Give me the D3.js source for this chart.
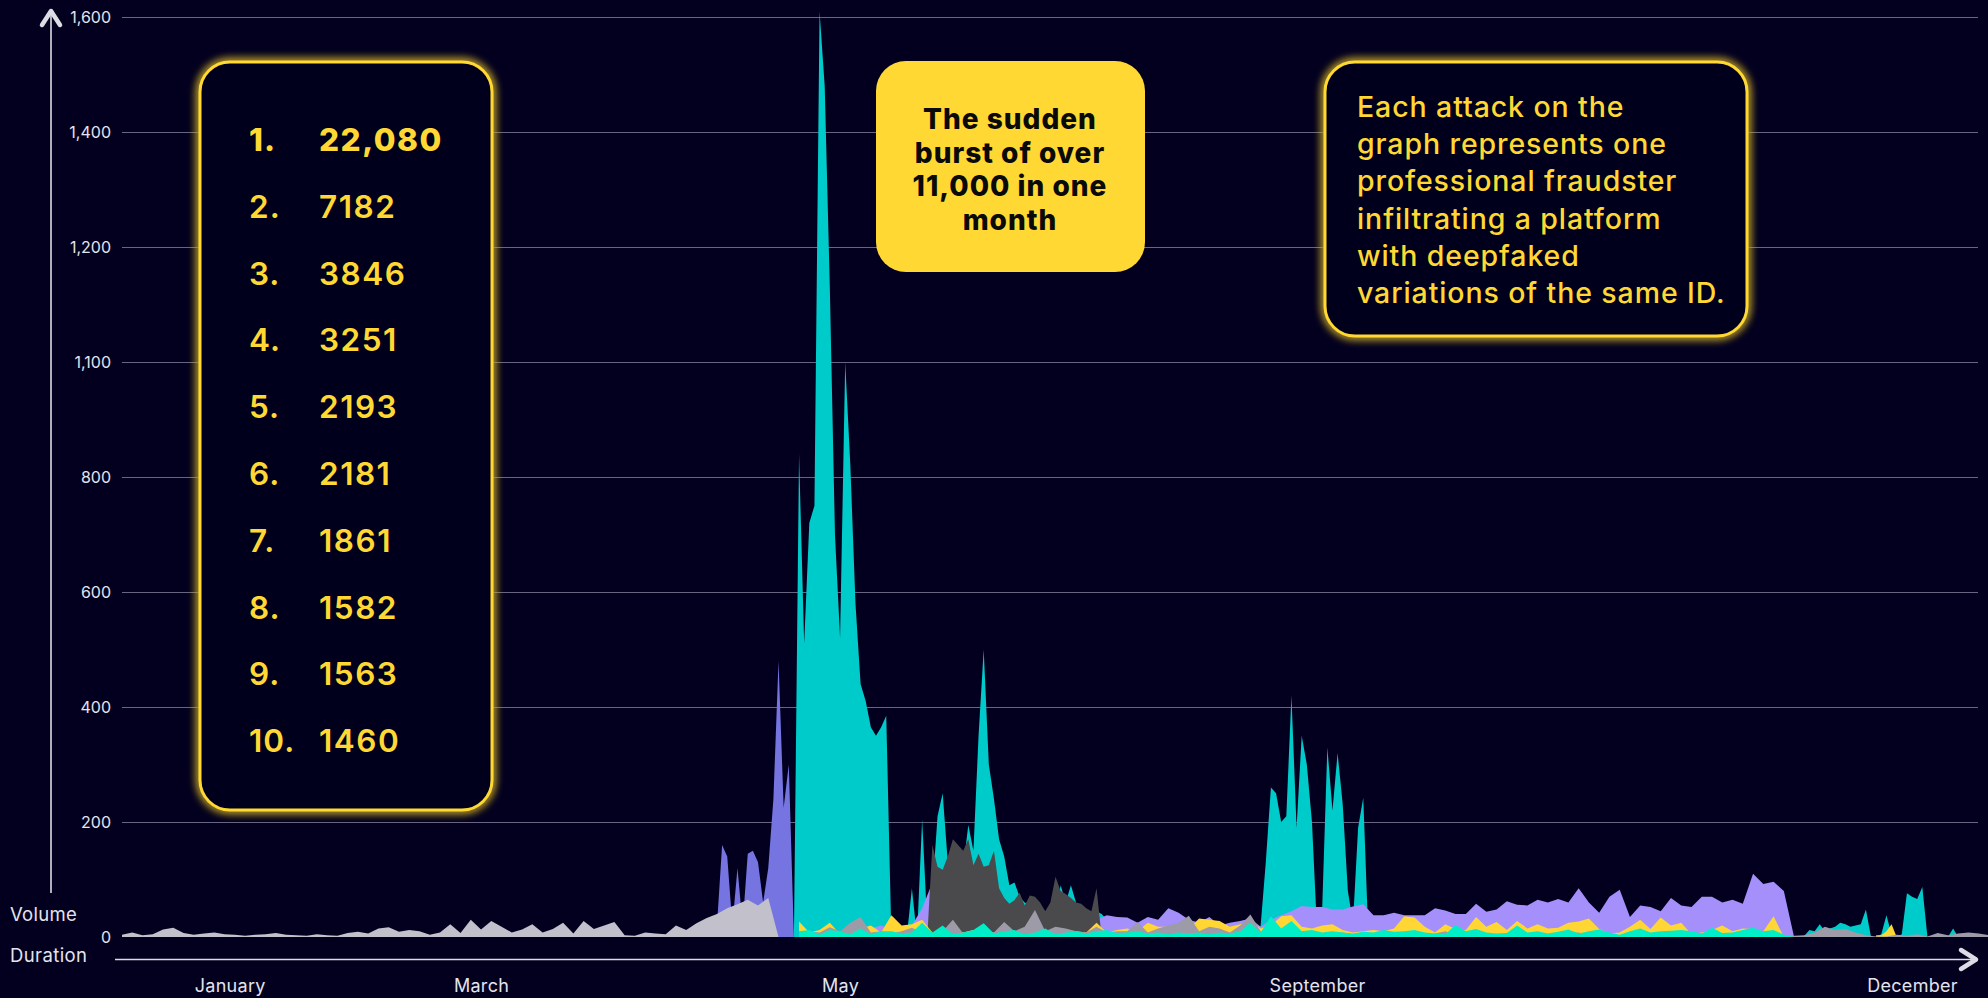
<!DOCTYPE html>
<html><head><meta charset="utf-8">
<script src="https://cdn.jsdelivr.net/npm/d3@7"></script>
<style>
html,body{margin:0;padding:0;background:#03001f;}
svg{display:block;}
</style></head><body>
<svg id="chart" width="1988" height="998"></svg>
<script>
// ---------- data ----------
const yTickValues = [0, 200, 400, 600, 800, 1000, 1200, 1400, 1600];
const yTickLabels = ["0", "200", "400", "600", "800", "1,100", "1,200", "1,400", "1,600"];
const monthLabels = ["January", "March", "May", "September", "December"];
const monthDays = [21, 70, 140, 233, 349];
const rankLabels = ["1.", "2.", "3.", "4.", "5.", "6.", "7.", "8.", "9.", "10."];
const rankValues = ["22,080", "7182", "3846", "3251", "2193", "2181", "1861", "1582", "1563", "1460"];
const burstNote = ["The sudden", "burst of over", "11,000 in one", "month"];
const attackNote = ["Each attack on the", "graph represents one", "professional fraudster", "infiltrating a platform", "with deepfaked", "variations of the same ID."];

// series: first day index, day step, values
const cyanBurstStart = 131;
const cyanBurst = [0, 840, 510, 720, 750, 1610, 1480, 1130, 700, 520, 1000, 820, 580, 440, 410, 365, 350, 365, 385, 0];
const cyanJuneStart = 153;
const cyanJune = [0, 85, 0, 205, 20, 80, 210, 250, 130, 120, 110, 120, 195, 150, 350, 500, 300, 240, 170, 140, 90, 95, 70, 60, 55, 50, 50, 45, 40, 40, 90, 60, 90, 60, 40, 30, 35, 45, 40, 30, 25, 20, 0];
const cyanSeptStart = 221;
const cyanSept = [0, 20, 130, 260, 250, 200, 210, 420, 190, 350, 300, 200, 10, 50, 330, 220, 320, 230, 80, 25, 190, 242, 0];
const cyanDecStart = 327;
const cyanDec = [0, 2, 12, 10, 22, 10, 15, 18, 25, 22, 18, 20, 22, 48, 0, 0, 5, 38, 5, 0, 5, 76, 70, 66, 87, 0, 0, 0, 0, 0, 15, 0];
const slateStart = 115;
const slate = [0, 20, 160, 140, 20, 120, 20, 145, 150, 130, 60, 120, 240, 480, 225, 300, 0];
const lightGrayStart = 0;
const lightGray = [4, 8, 3, 5, 13, 16, 7, 4, 6, 8, 5, 4, 2, 4, 5, 7, 4, 3, 2, 5, 3, 2, 7, 9, 6, 15, 17, 9, 12, 10, 4, 8, 22, 7, 30, 13, 28, 18, 8, 13, 22, 8, 14, 25, 6, 28, 14, 20, 26, 3, 2, 8, 6, 5, 20, 12, 24, 33, 40, 50, 57, 65, 55, 68, 0];
const lavenderStart = 144;
const lavender = [0, 15, 20, 15, 12, 20, 50, 95, 40, 30, 30, 30, 30, 30, 30, 30, 30, 30, 30, 30, 30, 30, 30,
  30, 38, 35, 34, 25, 35, 30, 50, 42, 30, 25, 35, 20, 25, 28, 32, 18, 30, 38, 45, 54, 52, 52, 48, 48, 53, 57, 38, 38, 42,
  38, 38, 38, 50, 46, 40, 40, 58, 44, 48, 62, 56, 55, 65, 60, 66, 60, 85, 60, 42, 70, 82, 35, 55, 52, 45, 68, 55, 52, 70,
  70, 60, 65, 58, 110, 92, 96, 80, 0];
const darkGrayStart = 157;
const darkGray = [0, 160, 122, 117, 140, 170, 160, 150, 170, 125, 145, 122, 125, 150, 85, 68, 58, 64, 77, 55, 72, 70, 60, 45, 60, 105, 80, 75, 68, 60, 58, 50, 45, 85, 0];
const yellowStart = 132;
const yellow = [27, 8, 12, 25, 5, 10, 15, 20, 8, 38, 20, 22, 30, 8, 10, 15, 8, 12, 10, 8, 12, 10, 8, 12, 8, 10, 12, 10, 8, 25,
  8, 12, 15, 10, 25, 18, 18, 12, 15, 32, 30, 28, 18, 22, 30, 15, 20, 36, 38, 18, 15, 20, 22, 12, 8, 10, 12, 10, 15, 36,
  34, 18, 8, 22, 14, 12, 35, 18, 26, 12, 28, 15, 22, 15,
  16, 25, 27, 32, 14, 6, 8, 18, 30, 14, 34, 20, 25, 5, 8, 12, 20, 10, 15, 14, 10, 36, 0];
const yellowDecStart = 342;
const yellowDec = [3, 3, 10, 22, 0];
const grayStart = 132;
const gray = [10, 10, 8, 17, 10, 25, 35, 8, 10, 6, 10, 16, 8, 6, 10, 30, 6, 8, 10, 8, 26, 10, 18, 47, 10, 18, 15, 10, 8, 18,
  8, 10, 10, 26, 8, 15, 20, 25, 37, 10, 18, 15, 8, 20, 39, 10, 8, 5, 8, 5, 5, 3, 8, 8, 4, 3, 5, 3, 5, 3,
  4, 3, 6, 10, 4, 3, 5, 3, 4, 3, 5, 4, 3, 4, 3, 7, 8, 4, 3, 4, 3, 5, 3, 4, 3, 5, 3, 4, 6, 5,
  3, 4, 3, 4, 3, 3, 2, 2, 3, 8, 18, 12, 14, 8, 3, 1, 1, 4, 2, 5, 1, 7, 3, 6, 8, 6, 3];
const aquaStart = 132;
const aqua = [10, 12, 4, 12, 10, 5, 15, 5, 10, 10, 6, 8, 25, 8, 20, 5, 8, 12, 24, 6, 10, 12, 5, 8, 15, 5, 8, 10, 6, 10,
  12, 7, 8, 10, 6, 8, 5, 8, 6, 8, 5, 8, 6, 10, 25, 8, 36, 15, 28, 10, 12, 8, 10, 8, 6, 9, 8, 12, 9, 10,
  12, 8, 6, 5, 21, 10, 14, 8, 6, 7, 20, 8, 10, 6, 9, 13, 6, 10, 13, 8, 4, 10, 15, 8, 10, 11, 12, 10, 6, 16,
  7, 8, 12, 16, 10, 12, 4, 0];

// ---------- drawing ----------
const BG = "#03001f";
const YEL = "#ffd833";
const FONT = "Inter, 'Noto Sans', sans-serif";
const svg = d3.select("#chart");
svg.append("rect").attr("width", 1988).attr("height", 998).attr("fill", BG);

const defs = svg.append("defs");
const f = defs.append("filter").attr("id", "glow").attr("x", "-10%").attr("y", "-10%").attr("width", "120%").attr("height", "120%");
f.append("feGaussianBlur").attr("in", "SourceGraphic").attr("stdDeviation", 5).attr("result", "b");
const fm = f.append("feMerge");
fm.append("feMergeNode").attr("in", "b");
fm.append("feMergeNode").attr("in", "b");
fm.append("feMergeNode").attr("in", "SourceGraphic");

const x = d3.scaleLinear().domain([0, 364]).range([122, 1989]);
const y = d3.scaleLinear().domain([0, 1600]).range([937, 17]);

// grid
const grid = svg.append("g").attr("transform", "translate(122,0)")
  .call(d3.axisLeft(y).tickValues(yTickValues.slice(1)).tickSize(-(1978 - 122)).tickFormat(""));
grid.select(".domain").remove();
grid.selectAll("line").attr("stroke", "#67657f").attr("stroke-width", 1);

// areas
const pts = (start, step, vals) => vals.map((v, i) => ({ d: start + i * step, v }));
const area = d3.area().x(p => x(p.d)).y0(y(0)).y1(p => y(p.v));
const layers = [
  { p: pts(cyanBurstStart, 1, cyanBurst), c: "#00cbcb" },
  { p: pts(cyanJuneStart, 1, cyanJune), c: "#00cbcb" },
  { p: pts(cyanSeptStart, 1, cyanSept), c: "#00cbcb" },
  { p: pts(cyanDecStart, 1, cyanDec), c: "#00cbcb" },
  { p: pts(slateStart, 1, slate), c: "#7674e0" },
  { p: pts(lightGrayStart, 2, lightGray), c: "#c1c0cb" },
  { p: pts(lavenderStart, 2, lavender), c: "#a48ffb" },
  { p: pts(darkGrayStart, 1, darkGray), c: "#4a4a4d" },
  { p: pts(yellowStart, 2, yellow), c: "#ffd633" },
  { p: pts(yellowDecStart, 1, yellowDec), c: "#ffd633" },
  { p: pts(grayStart, 2, gray), c: "#9c9ba7" },
  { p: pts(aquaStart, 2, aqua), c: "#00eec8" }
];
svg.append("g").selectAll("path").data(layers).join("path")
  .attr("d", l => area(l.p)).attr("fill", l => l.c);

// y tick labels
const yl = svg.append("g").attr("transform", "translate(111,0)")
  .call(d3.axisLeft(y).tickValues(yTickValues).tickFormat((d, i) => yTickLabels[i]).tickSize(0).tickPadding(0));
yl.select(".domain").remove();
yl.selectAll("text").attr("fill", "#e4e4ec").style("font-family", FONT).style("font-size", "16px").attr("dy", "0.36em");

// axes lines + arrows
const axisCol = "#dcdce4";
svg.append("line").attr("x1", 51).attr("x2", 51).attr("y1", 11).attr("y2", 893).attr("stroke", axisCol).attr("stroke-width", 1.6);
svg.append("path").attr("d", "M42,25L51,11L60,25").attr("fill", "none").attr("stroke", axisCol).attr("stroke-width", 4.5).attr("stroke-linecap", "round").attr("stroke-linejoin", "round");
svg.append("line").attr("x1", 115).attr("x2", 1975).attr("y1", 959.5).attr("y2", 959.5).attr("stroke", axisCol).attr("stroke-width", 1.6);
svg.append("path").attr("d", "M1961,950L1976,959.5L1961,969").attr("fill", "none").attr("stroke", axisCol).attr("stroke-width", 4.5).attr("stroke-linecap", "round").attr("stroke-linejoin", "round");

svg.append("text").attr("x", 10).attr("y", 921).text("Volume").attr("fill", "#e4e4ec").style("font-family", FONT).style("font-size", "18.5px").style("letter-spacing", "0.3px");
svg.append("text").attr("x", 10).attr("y", 962).text("Duration").attr("fill", "#e4e4ec").style("font-family", FONT).style("font-size", "18.5px").style("letter-spacing", "0.4px");

// month labels
const xl = svg.append("g").attr("transform", "translate(0,0)")
  .call(d3.axisBottom(x).tickValues(monthDays).tickFormat((d, i) => monthLabels[i]).tickSize(0));
xl.select(".domain").remove();
xl.selectAll("text").attr("y", 992).attr("dy", 0).attr("fill", "#e4e4ec").style("font-family", FONT).style("font-size", "18px").style("letter-spacing", "0.3px");

// ranking box
svg.append("rect").attr("x", 200).attr("y", 62).attr("width", 292).attr("height", 748).attr("rx", 30)
  .attr("fill", BG).attr("stroke", YEL).attr("stroke-width", 3).attr("filter", "url(#glow)");
const rows = svg.append("g").selectAll("g").data(rankLabels).join("g");
rows.append("text").attr("x", 249).attr("y", (d, i) => 151 + i * 66.8).text(d => d)
  .attr("fill", YEL).style("font-family", FONT).style("font-size", "31.5px").style("letter-spacing", "1px").style("font-weight", (d, i) => i === 0 ? 800 : 600);
rows.append("text").attr("x", 319).attr("y", (d, i) => 151 + i * 66.8).text((d, i) => rankValues[i])
  .attr("fill", YEL).style("font-family", FONT).style("font-size", "31.5px").style("letter-spacing", "1.5px").style("font-weight", (d, i) => i === 0 ? 800 : 600);

// burst note
svg.append("rect").attr("x", 876).attr("y", 61).attr("width", 269).attr("height", 211).attr("rx", 30).attr("fill", YEL);
svg.append("g").selectAll("text").data(burstNote).join("text")
  .attr("x", 1010).attr("y", (d, i) => 129 + i * 33.7).attr("text-anchor", "middle").text(d => d)
  .attr("fill", "#0a0a0a").style("font-family", FONT).style("font-size", "28px").style("letter-spacing", "1px").style("font-weight", 800);

// attack note
svg.append("rect").attr("x", 1325).attr("y", 62).attr("width", 422).attr("height", 274).attr("rx", 30)
  .attr("fill", BG).attr("stroke", YEL).attr("stroke-width", 3).attr("filter", "url(#glow)");
svg.append("g").selectAll("text").data(attackNote).join("text")
  .attr("x", 1357).attr("y", (d, i) => 116.7 + i * 37.3).text(d => d)
  .attr("fill", YEL).style("font-family", FONT).style("font-size", "28.5px").style("font-weight", 500).style("letter-spacing", "0.9px");
</script>
</body></html>
